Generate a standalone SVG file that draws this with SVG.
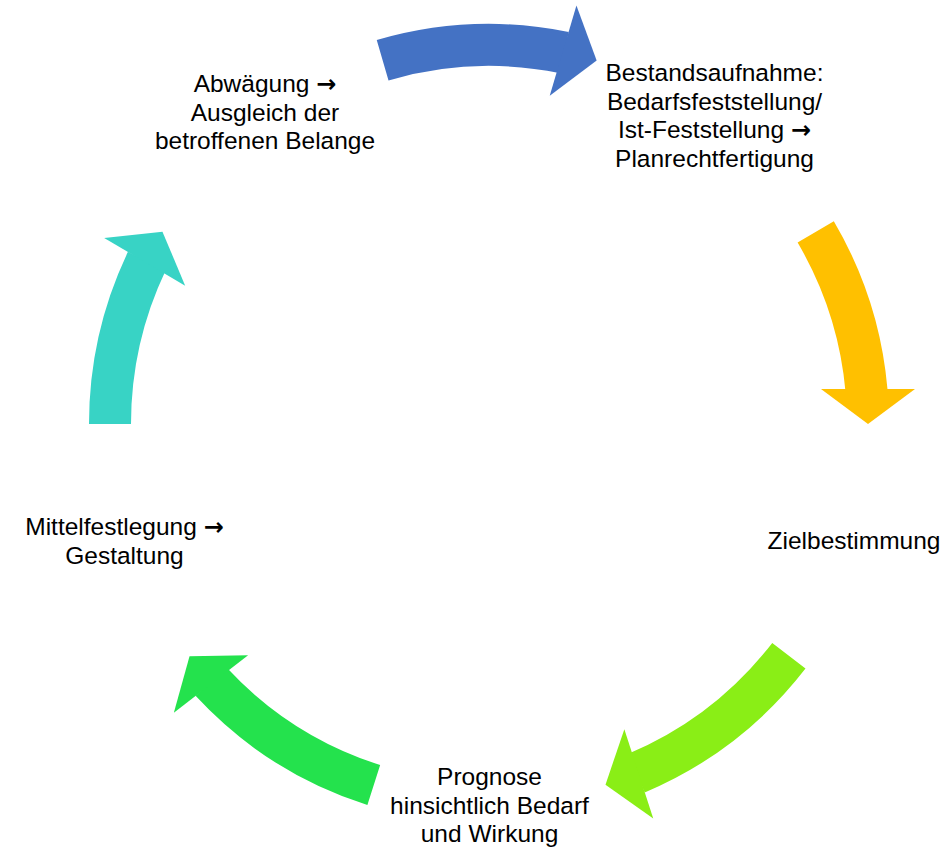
<svg xmlns="http://www.w3.org/2000/svg" width="944" height="850" viewBox="0 0 944 850">
<style>
.t{font-family:"Liberation Sans",Arial,sans-serif;font-size:24.5px;fill:#000;text-anchor:middle}
.ar{font-family:"DejaVu Sans",sans-serif;font-size:24px;font-weight:bold}
.shaft{fill:none;stroke-width:42}
</style>
<rect width="944" height="850" fill="#fff"/>
<g id="connectors" transform="translate(489,424)">
  <g id="arrow-blue">
    <circle class="shaft" r="379" pathLength="360" stroke="#4472C4" stroke-dasharray="27.8 400" transform="rotate(253.7)"/>
    <polygon points="332,-35 426,-35 379,0" fill="#4472C4" transform="rotate(286.5)"/>
  </g>
  <g id="arrow-yellow">
    <circle class="shaft" r="379" pathLength="360" stroke="#FFC000" stroke-dasharray="25.45 400" transform="rotate(329.55)"/>
    <polygon points="332,-35 426,-35 379,0" fill="#FFC000" transform="rotate(360)"/>
  </g>
  <g id="arrow-lime">
    <circle class="shaft" r="379" pathLength="360" stroke="#8AEE16" stroke-dasharray="29.4 400" transform="rotate(37.7)"/>
    <polygon points="332,-35 426,-35 379,0" fill="#8AEE16" transform="rotate(72.1)"/>
  </g>
  <g id="arrow-green">
    <circle class="shaft" r="379" pathLength="360" stroke="#24E24D" stroke-dasharray="29.5 400" transform="rotate(107.7)"/>
    <polygon points="332,-35 426,-35 379,0" fill="#24E24D" transform="rotate(142.2)"/>
  </g>
  <g id="arrow-teal">
    <circle class="shaft" r="379" pathLength="360" stroke="#38D3C5" stroke-dasharray="25.5 400" transform="rotate(180)"/>
    <polygon points="332,-35 426,-35 379,0" fill="#38D3C5" transform="rotate(210.5)"/>
  </g>
</g>
<g id="node-bestandsaufnahme">
  <text class="t" x="714.5" y="81">Bestandsaufnahme:</text>
  <text class="t" x="714.5" y="109.5">Bedarfsfeststellung/</text>
  <text class="t" x="714.5" y="138">Ist-Feststellung <tspan class="ar">→</tspan></text>
  <text class="t" x="714.5" y="166.5">Planrechtfertigung</text>
</g>
<g id="node-zielbestimmung">
  <text class="t" x="854" y="549">Zielbestimmung</text>
</g>
<g id="node-prognose">
  <text class="t" x="489.5" y="785">Prognose</text>
  <text class="t" x="489.5" y="813.5">hinsichtlich Bedarf</text>
  <text class="t" x="489.5" y="842">und Wirkung</text>
</g>
<g id="node-mittelfestlegung">
  <text class="t" x="124.5" y="535">Mittelfestlegung <tspan class="ar">→</tspan></text>
  <text class="t" x="124.5" y="564">Gestaltung</text>
</g>
<g id="node-abwaegung">
  <text class="t" x="265" y="92">Abwägung <tspan class="ar">→</tspan></text>
  <text class="t" x="265" y="120.5">Ausgleich der</text>
  <text class="t" x="265" y="149">betroffenen Belange</text>
</g>
</svg>
